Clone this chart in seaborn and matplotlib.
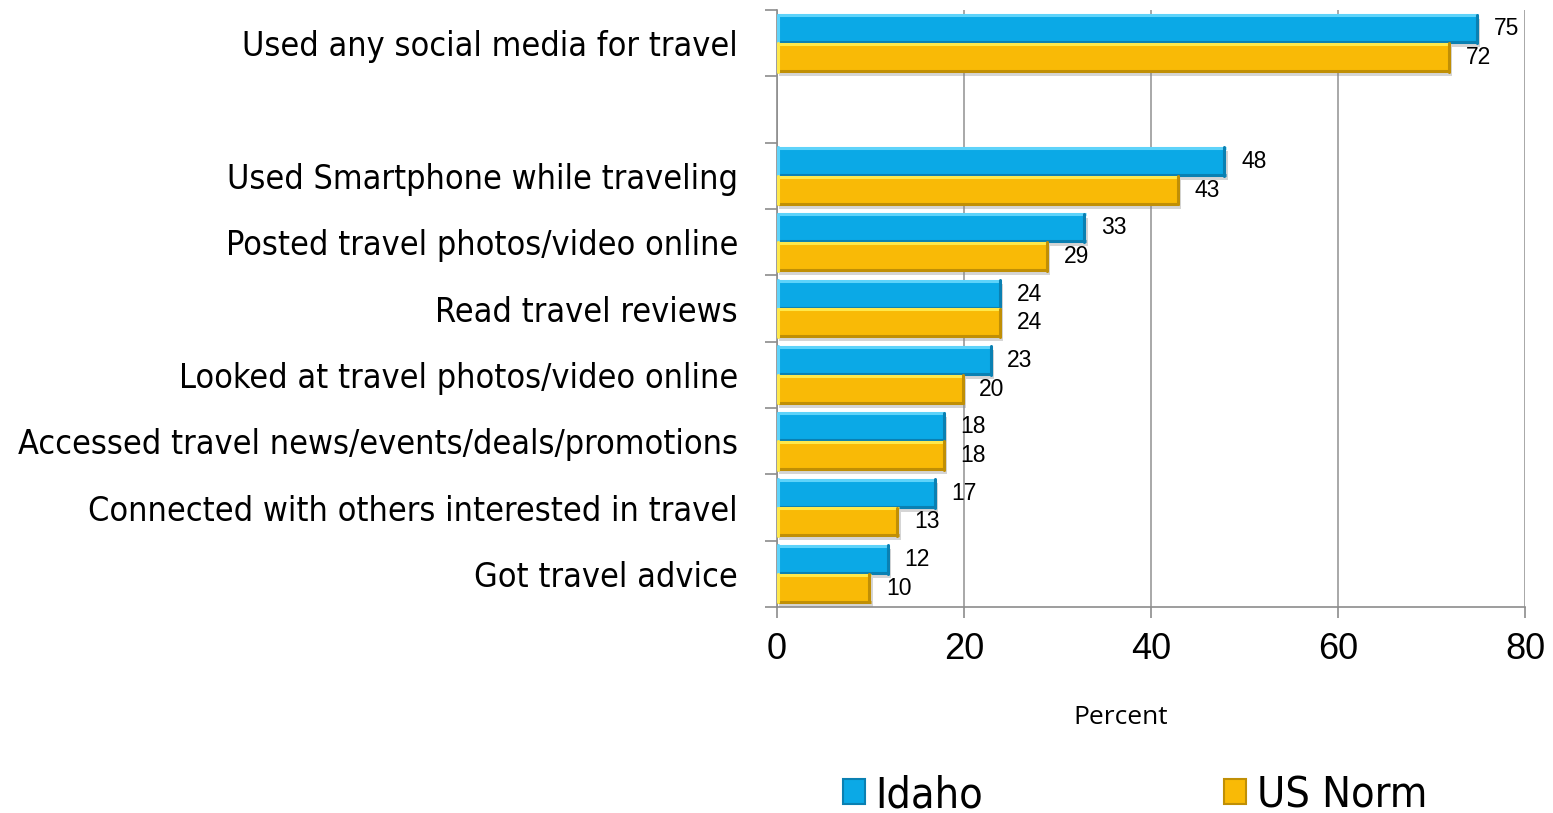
import matplotlib
matplotlib.use("Agg")
import matplotlib.pyplot as plt
import matplotlib.patheffects as pe
from matplotlib.patches import Patch
from matplotlib.ticker import FixedLocator, NullFormatter
import seaborn as sns
import pandas as pd
import numpy as np

# Survey items (a blank slot separates the headline item from the rest)
categories = [
    "Used any social media for travel",
    " ",
    "Used Smartphone while traveling",
    "Posted travel photos/video online",
    "Read travel reviews",
    "Looked at travel photos/video online",
    "Accessed travel news/events/deals/promotions",
    "Connected with others interested in travel",
    "Got travel advice",
]
idaho = [75, None, 48, 33, 24, 23, 18, 17, 12]
us_norm = [72, None, 43, 29, 24, 20, 18, 13, 10]
series = ["Idaho", "US Norm"]
x_ticks = [0, 20, 40, 60, 80]

rows = []
for cat, a, b in zip(categories, idaho, us_norm):
    if a is not None:
        rows.append({"item": cat, "group": series[0], "pct": a})
        rows.append({"item": cat, "group": series[1], "pct": b})
df = pd.DataFrame(rows)

colors = {"Idaho": "#0BA9E6", "US Norm": "#F9BA06"}
hi = {"Idaho": "#5ED3FA", "US Norm": "#FFE84A"}
lo = {"Idaho": "#0A80B2", "US Norm": "#C08F05"}

sns.set_theme(style="white")
plt.rcParams["font.family"] = ["Liberation Sans", "DejaVu Sans"]
plt.rcParams["text.color"] = "black"
plt.rcParams["xtick.color"] = "black"
plt.rcParams["ytick.color"] = "black"

fig = plt.figure(figsize=(15.53, 8.13), dpi=100)
ax = fig.add_axes([777 / 1553, 1 - 607 / 813, (1525 - 777) / 1553, (607 - 10) / 813])

sns.barplot(
    data=df, y="item", x="pct", hue="group", order=categories,
    hue_order=series, palette=colors, orient="h", width=0.86,
    ax=ax, legend=False, saturation=1, linewidth=0,
)

# bevelled look plus a soft drop shadow on every bar
for container, grp in zip(ax.containers, series):
    for patch in container:
        x0, y0 = patch.get_x(), patch.get_y()
        w, h = patch.get_width(), patch.get_height()
        patch.set_path_effects([
            pe.SimplePatchShadow(offset=(1.5, -3), shadow_rgbFace="#888888", alpha=0.35),
            pe.Normal(),
        ])
        ax.plot([x0, x0 + w], [y0 + 0.012, y0 + 0.012], color=hi[grp], lw=2.2,
                solid_capstyle="butt", zorder=3)
        ax.plot([x0, x0 + w], [y0 + h - 0.012, y0 + h - 0.012], color=lo[grp], lw=2.2,
                solid_capstyle="butt", zorder=3)
        ax.plot([x0 + w - 0.15, x0 + w - 0.15], [y0, y0 + h], color=lo[grp], lw=2.2,
                zorder=3)
        ax.plot([x0 + 0.15, x0 + 0.15], [y0, y0 + h], color=hi[grp], lw=2.2, zorder=3)
    ax.bar_label(container, labels=[f"{v:g}" for v in container.datavalues],
                 padding=11, fontsize=16.5, color="black")

ax.set_xlim(0, 80)
ax.set_ylim(len(categories) - 0.5, -0.5)
ax.set_xticks(x_ticks)
ax.set_xticklabels([str(t) for t in x_ticks], fontsize=26)
ax.tick_params(axis="x", length=8, width=1.2, color="#8c8c8c", direction="out",
               pad=10, bottom=True)

# category labels on major ticks, boundary tick marks on minor ticks
ax.set_yticks(range(len(categories)))
ax.set_yticklabels(categories, fontsize=24.5, family="DejaVu Sans", fontstretch="condensed")
ax.tick_params(axis="y", which="major", length=0, pad=28)
ax.yaxis.set_minor_locator(FixedLocator(np.arange(-0.5, len(categories), 1)))
ax.yaxis.set_minor_formatter(NullFormatter())
ax.tick_params(axis="y", which="minor", length=9, width=1.2, color="#8c8c8c",
               direction="out", left=True)
ax.set_ylabel("")
ax.set_xlabel("")

ax.grid(axis="x", color="#9a9a9a", linewidth=1.2)
ax.set_axisbelow(True)
for side in ["top", "right"]:
    ax.spines[side].set_visible(False)
for side in ["left", "bottom"]:
    ax.spines[side].set_color("#8c8c8c")
    ax.spines[side].set_linewidth(1.2)

fig.text(1121 / 1553, 1 - 717 / 813, "Percent", ha="center", va="center",
         fontsize=19, family=["Open Sans", "DejaVu Sans"])

handles = [Patch(facecolor=colors[s], edgecolor=lo[s], linewidth=1.5) for s in series]
fig.legend(handles, series, loc="center", bbox_to_anchor=(1135 / 1553, 1 - 795 / 813),
           ncol=2, frameon=False,
           prop={"family": "DejaVu Sans", "stretch": "condensed", "size": 31},
           handlelength=0.5, handleheight=0.5, handletextpad=0.25, columnspacing=5.6)

fig.savefig("out.png", dpi=100)
